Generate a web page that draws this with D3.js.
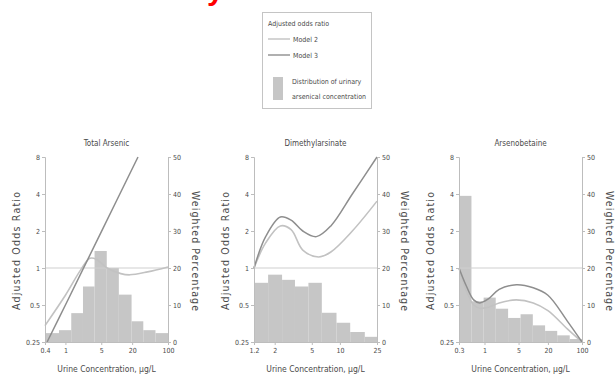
<!DOCTYPE html>
<html><head><meta charset="utf-8">
<script src="https://cdn.jsdelivr.net/npm/d3@7"></script>
<style>
body{margin:0;background:#fff}
svg text{font-family:"Liberation Sans Narrow","DejaVu Sans Condensed","Liberation Sans",Arial,sans-serif;fill:#4a4a4a}
</style></head><body><svg id="chart" width="616" height="390"></svg>
<script>
// ---- data ----
const panelTitles = ["Total Arsenic", "Dimethylarsinate", "Arsenobetaine"];
const xDomains = [[0.4, 100], [1.2, 25], [0.3, 100]];
const xTickValues = [[0.4, 1, 5, 20, 100], [1.2, 2, 5, 10, 25], [0.3, 1, 5, 20, 100]];
const xTickLabels = [["0.4", "1", "5", "20", "100"], ["1.2", "2", "5", "10", "25"], ["0.3", "1", "5", "20", "100"]];
const orTicks = [0.25, 0.5, 1, 2, 4, 8];
const orTickLabels = ["0.25", "0.5", "1", "2", "4", "8"];
const pctTicks = [0, 10, 20, 30, 40, 50];

// distribution of urinary concentration (bin edges in µg/L, weighted %)
const totalBinEdges = [0.4, 0.75, 1.3, 2.2, 3.7, 6.4, 11, 19.5, 33, 57, 100];
const totalPct = [2.4, 3.2, 7.8, 15, 24.6, 20, 12.8, 5.6, 3.2, 2.4];
const dmaBinEdges = [1.2, 1.7, 2.4, 3.3, 4.6, 6.4, 9.2, 12.9, 18.5, 25];
const dmaPct = [16, 18.2, 16.8, 15, 16, 7.9, 5.2, 2.7, 1.4];
const abBinEdges = [0.3, 0.54, 0.96, 1.7, 3.05, 5.5, 9.8, 17.5, 31, 56, 100];
const abPct = [39.5, 11, 12, 9, 6.5, 7.5, 4.5, 3, 1.8, 0.8];

// adjusted odds ratio curves: [concentration, OR]
const totalModel2 = [[0.4, 0.34], [1, 0.6], [2, 0.97], [3, 1.2], [4, 1.18], [6.5, 1.0], [12, 0.9], [18, 0.88], [40, 0.93], [100, 1.02]];
const totalModel3 = [[0.44, 0.25], [1, 0.5], [5, 1.97], [26, 8]];
const dmaModel2 = [[1.2, 1], [1.6, 1.6], [2.3, 2.2], [3, 2.05], [4, 1.4], [5.9, 1.23], [8, 1.35], [13.6, 2.0], [25, 3.5]];
const dmaModel3 = [[1.2, 1], [1.6, 1.8], [2.3, 2.6], [3, 2.45], [4, 2.0], [5.6, 1.8], [8, 2.2], [13.6, 4], [25, 8]];
const abModel2 = [[0.3, 1], [0.42, 0.66], [0.6, 0.5], [0.8, 0.47], [1.2, 0.48], [2, 0.52], [4.5, 0.55], [10, 0.52], [20, 0.45], [50, 0.32], [100, 0.25]];
const abModel3 = [[0.3, 1], [0.42, 0.72], [0.6, 0.55], [0.8, 0.52], [1.2, 0.56], [2, 0.67], [4.5, 0.73], [10, 0.69], [20, 0.6], [50, 0.37], [100, 0.25]];

const binEdges = [totalBinEdges, dmaBinEdges, abBinEdges];
const pcts = [totalPct, dmaPct, abPct];
const model2 = [totalModel2, dmaModel2, abModel2];
const model3 = [totalModel3, dmaModel3, abModel3];

// ---- layout ----
const svg = d3.select("#chart");
const plotLeft = [45, 254, 459];
const plotW = 123, plotTop = 157, plotBottom = 342;
const colBar = "#c6c6c6", colM2 = "#c2c2c2", colM3 = "#8e8e8e", colAxis = "#bdbdbd";
const fontTick = 7;

// red heading running off the top edge of the page
svg.append("text").attr("x", 207).attr("y", 0)
  .style("fill", "#ff0000").style("font-family", "Liberation Sans, Arial, sans-serif")
  .style("font-weight", "bold").style("font-size", "30px").text("y");

panelTitles.forEach((title, i) => {
  const x0 = plotLeft[i], x1 = x0 + plotW;
  const g = svg.append("g");
  const x = d3.scaleLog().domain(xDomains[i]).range([x0, x1]);
  const yOR = d3.scaleLog().base(2).domain([0.25, 8]).range([plotBottom, plotTop]);
  const yPct = d3.scaleLinear().domain([0, 50]).range([plotBottom, plotTop]);

  // histogram
  const edges = binEdges[i];
  g.selectAll("rect.bin").data(pcts[i]).join("rect")
    .attr("x", (d, k) => x(edges[k]))
    .attr("width", (d, k) => x(edges[k + 1]) - x(edges[k]))
    .attr("y", d => yPct(d))
    .attr("height", d => yPct(0) - yPct(d))
    .attr("fill", colBar);

  // reference line at OR = 1
  g.append("line").attr("x1", x0).attr("x2", x1)
    .attr("y1", yOR(1)).attr("y2", yOR(1))
    .attr("stroke", "#cfcfcf").attr("stroke-width", 1);

  const line = d3.line().x(d => x(d[0])).y(d => yOR(d[1])).curve(d3.curveCatmullRom.alpha(0.5));
  g.append("path").attr("d", line(model2[i])).attr("fill", "none")
    .attr("stroke", colM2).attr("stroke-width", 1.6);
  g.append("path").attr("d", line(model3[i])).attr("fill", "none")
    .attr("stroke", colM3).attr("stroke-width", 1.5);

  // axes
  const styleAxis = sel => {
    sel.selectAll("path,line").attr("stroke", colAxis);
    sel.selectAll("text").attr("fill", "#4a4a4a").style("font-size", fontTick + "px");
  };
  g.append("g").attr("transform", `translate(${x0},0)`)
    .call(d3.axisLeft(yOR).tickValues(orTicks).tickFormat((d, k) => orTickLabels[k]).tickSize(3).tickPadding(2))
    .call(styleAxis);
  g.append("g").attr("transform", `translate(${x1},0)`)
    .call(d3.axisRight(yPct).tickValues(pctTicks).tickFormat(d3.format("d")).tickSize(3).tickPadding(2))
    .call(styleAxis);
  g.append("g").attr("transform", `translate(0,${plotBottom})`)
    .call(d3.axisBottom(x).tickValues(xTickValues[i]).tickFormat((d, k) => xTickLabels[i][k]).tickSize(3).tickPadding(3))
    .call(styleAxis);

  const cx = x0 + plotW / 2;
  g.append("text").attr("x", cx).attr("y", 146).attr("text-anchor", "middle")
    .style("font-size", "8px").text(title);
  g.append("text").attr("x", cx).attr("y", 372).attr("text-anchor", "middle")
    .style("font-size", "8.5px").text("Urine Concentration, µg/L");
  g.append("text").attr("transform", `translate(${x0 - 25},251) rotate(-90)`)
    .attr("text-anchor", "middle").style("font-size", "10.5px")
    .attr("textLength", 118).attr("lengthAdjust", "spacing").text("Adjusted Odds Ratio");
  g.append("text").attr("transform", `translate(${x1 + 24},251) rotate(90)`)
    .attr("text-anchor", "middle").style("font-size", "10.5px")
    .attr("textLength", 120).attr("lengthAdjust", "spacing").text("Weighted Percentage");
});

// ---- legend ----
const lg = svg.append("g");
lg.append("rect").attr("x", 262.5).attr("y", 12.5).attr("width", 109).attr("height", 96)
  .attr("fill", "#fff").attr("stroke", "#c4c4c4");
lg.append("text").attr("x", 268).attr("y", 26).style("font-size", "7px").text("Adjusted odds ratio");
lg.append("line").attr("x1", 268).attr("x2", 290).attr("y1", 39).attr("y2", 39).attr("stroke", colM2).attr("stroke-width", 1.4);
lg.append("text").attr("x", 293).attr("y", 42).style("font-size", "7px").text("Model 2");
lg.append("line").attr("x1", 268).attr("x2", 290).attr("y1", 55).attr("y2", 55).attr("stroke", colM3).attr("stroke-width", 1.4);
lg.append("text").attr("x", 293).attr("y", 58).style("font-size", "7px").text("Model 3");
lg.append("rect").attr("x", 273).attr("y", 77).attr("width", 10).attr("height", 23).attr("fill", colBar);
lg.append("text").attr("x", 292).attr("y", 84).style("font-size", "7px").text("Distribution of urinary");
lg.append("text").attr("x", 292).attr("y", 99).style("font-size", "7px").text("arsenical concentration");
</script></body></html>
